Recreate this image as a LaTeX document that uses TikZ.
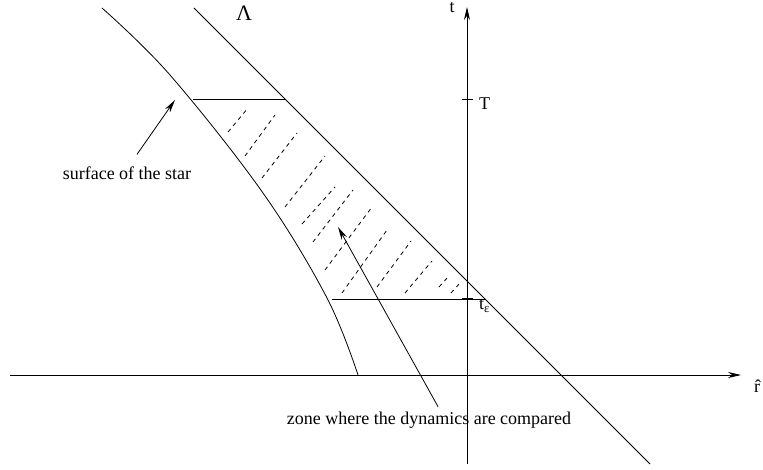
\documentclass[tikz,border=0pt]{standalone}
\usepackage{fontspec}
\setmainfont{Liberation Serif}
\usetikzlibrary{arrows.meta,positioning}

\begin{document}
\begin{tikzpicture}[x=1pt, y=-1pt,
    line/.style={line width=0.8pt},
    hatch/.style={line width=0.8pt, dash pattern=on 4pt off 4pt},
    arrow/.style={line width=0.8pt, -{Stealth[length=13pt, width=6pt]}},
    txt/.style={inner sep=0pt, font=\fontsize{18}{20}\selectfont}
  ]
    \useasboundingbox (0,0) rectangle (763,470);

    \coordinate (xs) at (10,375);
    \coordinate (xe) at (741,375);
    \coordinate (ys) at (467,464);
    \coordinate (ye) at (467,7);
    \draw[arrow] (xs) -- (xe);
    \draw[arrow] (ys) -- (ye);
    \node[txt] (rhat) at (757,386) {\^{r}};
    \node[txt] (t) at (452,8) {t};

    \coordinate (tT) at (467,99);
    \coordinate (teps) at (467,299);
    \draw[line] ([xshift=-5pt]tT) -- ([xshift=6pt]tT);
    \draw[line, line width=1.6pt] ([xshift=-5pt]teps) -- ([xshift=6pt]teps);
    \node[txt, anchor=north west, right=12pt of tT, yshift=-5pt] (T) {T};
    \node[txt, anchor=north west, right=12pt of teps, yshift=-7pt] (te) {t\textsubscript{ε}};

    \coordinate (la) at (194,8);
    \coordinate (lb) at (650,464);
    \draw[line] (la) -- (lb);
    \node[txt, font=\fontsize{22}{24}\selectfont] (lambda) at (244,13) {Λ};

    \draw[line] plot[smooth, tension=0.6] coordinates {(102,8) (170,75) (263,193) (327,298) (358,375)};

    \coordinate (topl) at (193,99);
    \coordinate (topr) at (285,99);
    \coordinate (botl) at (332,299);
    \coordinate (botr) at (485,299);
    \draw[line] (topl) -- (topr);
    \draw[line] (botl) -- (botr);

    \foreach \xa/\ya/\xb/\yb in {228/132/248/108, 245/156/275/115, 262/178/297/133,
        285/207/325/156, 302/224/335/187, 313/242/353/190, 325/270/372/207,
        342/293/387/230, 377/287/411/241, 405/293/432/261, 439/287/448/277, 451/293/460/283}
      \draw[hatch] (\xa,\ya) -- (\xb,\yb);

    \node[txt] (surf) at (127,173) {surface of the star};
    \coordinate[above right=12pt and 10pt of surf.north] (surfs);
    \coordinate (surft) at (175,100);
    \draw[arrow] (surfs) -- (surft);

    \node[txt] (zone) at (429,420) {zone where the dynamics are compared};
    \coordinate[above right=5pt and 9pt of zone.north] (zones);
    \coordinate (zonet) at (338,227);
    \draw[arrow] (zones) -- (zonet);
  \end{tikzpicture}
\end{document}
